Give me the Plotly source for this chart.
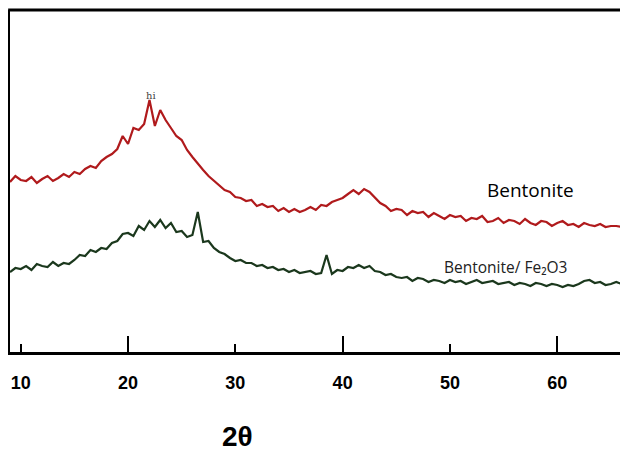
import numpy as np
import plotly.graph_objects as go

# 2-theta grid (degrees), 0.5 deg steps from 9.0 to 66.5
two_theta = list(np.round(np.arange(9.0, 66.75, 0.5), 2))

bentonite = [
    # 9.0 - 19.0
    170, 176, 172, 171, 175, 169, 173, 176, 171, 174, 178, 175, 180, 178, 183,
    186, 184, 191, 195, 198, 203,
    # 19.5 - 43.5
    216, 208, 224, 222, 228, 252, 226, 242, 232, 224, 216, 212, 202, 195, 188,
    182, 176, 171, 167, 162, 160, 155, 154, 151, 152, 146, 148, 145, 146, 141,
    144, 140, 143, 140, 142, 145, 142, 147, 146, 150, 152, 154, 158, 162, 158,
    163, 160, 155, 149,
    # 44.0 - 66.5
    146, 141, 143, 142, 137, 141, 139, 140, 135, 139, 136, 133, 137, 135, 136,
    131, 134, 133, 136, 130, 131, 134, 129, 132, 131, 128, 133, 129, 127, 131,
    130, 126, 129, 131, 127, 128, 125, 129, 127, 126, 128, 125, 126, 126, 125,
    128,
]

bentonite_fe2o3 = [
    # 9.0 - 19.0
    80, 84, 83, 86, 82, 88, 86, 85, 90, 86, 89, 88, 92, 97, 96, 102, 100, 104,
    103, 109, 111,
    # 19.5 - 27.0
    118, 119, 116, 126, 122, 131, 125, 132, 124, 129, 120, 121, 115, 117, 140, 110,
    # 27.5 - 38.0
    111, 104, 100, 98, 94, 91, 92, 89, 89, 86, 87, 84, 85, 82, 83, 80, 82, 79,
    80, 81, 78, 79,
    # 38.5
    97,
    # 39.0 - 43.5
    78, 82, 81, 85, 84, 87, 84, 86, 81, 80,
    # 44.0 - 66.5
    77, 78, 75, 74, 75, 71, 74, 73, 70, 72, 71, 69, 72, 70, 71, 68, 70, 72,
    69, 70, 71, 68, 69, 70, 67, 69, 68, 66, 69, 68, 66, 68, 67, 65, 67, 66,
    68, 71, 72, 69, 70, 67, 68, 70, 68, 69,
]

tick_values = [10, 20, 30, 40, 50, 60]
long_tick_values = [20, 40, 60]
series_names = ["Bentonite", "Bentonite/ Fe\u2082O3"]

x_range = [9.0, 66.5]
y_range = [0, 342]

fig = go.Figure()
fig.add_trace(go.Scatter(x=two_theta, y=bentonite, mode="lines",
                         line=dict(color="#b01a1c", width=2.2), name=series_names[0],
                         showlegend=False))
fig.add_trace(go.Scatter(x=two_theta, y=bentonite_fe2o3, mode="lines",
                         line=dict(color="#1b381d", width=2.2), name=series_names[1],
                         showlegend=False))
# invisible trace on second x axis to carry the long ticks
fig.add_trace(go.Scatter(x=[x_range[0]], y=[0], xaxis="x2", mode="markers",
                         marker=dict(opacity=0), showlegend=False, hoverinfo="skip"))

tick_font = dict(family="Liberation Sans Narrow, Arial Narrow, sans-serif",
                 size=18, color="black", weight="bold")

# page body has an 8px default margin, so the figure is 8px smaller each way
fig.update_layout(
    width=620, height=445,
    margin=dict(l=2, r=1, t=2, b=101),
    paper_bgcolor="white", plot_bgcolor="white",
    xaxis=dict(range=x_range, tickmode="array", tickvals=tick_values,
               ticks="inside", ticklen=8, tickwidth=2, tickcolor="black",
               showline=True, linewidth=3, linecolor="black",
               showgrid=False, zeroline=False, tickfont=tick_font,
               ticklabelstandoff=12),
    xaxis2=dict(range=x_range, overlaying="x", anchor="y", side="bottom",
                tickmode="array", tickvals=long_tick_values, ticks="inside",
                ticklen=16, tickwidth=2, tickcolor="black", showticklabels=False,
                showgrid=False, zeroline=False, showline=False),
    yaxis=dict(range=y_range, showticklabels=False, ticks="", showgrid=False,
               zeroline=False, showline=True, linewidth=3, linecolor="black"),
    shapes=[
        dict(type="line", xref="paper", yref="paper", x0=-0.003, x1=1, y0=1, y1=1,
             line=dict(color="black", width=3)),
        dict(type="line", xref="paper", yref="paper", x0=1, x1=1, y0=0, y1=1,
             line=dict(color="#555555", width=1.5)),
    ],
    annotations=[
        dict(text=series_names[0], x=57.5, y=162, xref="x", yref="y", showarrow=False,
             font=dict(family="Open Sans, sans-serif", size=19, color="black")),
        dict(text=series_names[1], x=55.2, y=85, xref="x", yref="y", showarrow=False,
             font=dict(family="Open Sans, sans-serif", size=15.5, color="#222222")),
        dict(text="hi", x=22.1, y=257, xref="x", yref="y", showarrow=False,
             font=dict(family="DejaVu Serif, serif", size=10, color="#444444")),
        dict(text="2\u03b8", x=0.368, y=-0.246, xref="paper", yref="paper",
             showarrow=False, yanchor="middle",
             font=dict(family="Liberation Sans Narrow, Arial Narrow, sans-serif",
                       size=28, color="black", weight="bold")),
    ],
)

assert len(two_theta) == len(bentonite) == len(bentonite_fe2o3)
fig.write_html("out.html")
